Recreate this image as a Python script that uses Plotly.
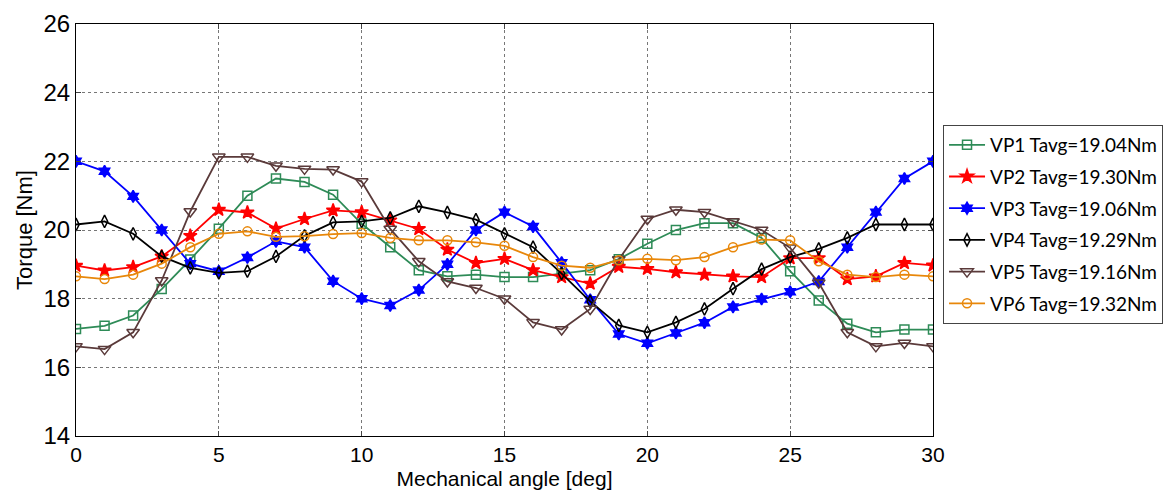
import plotly.graph_objects as go

angle = list(range(0, 31))

vp1 = [17.12, 17.21, 17.51, 18.28, 19.14, 20.04, 21.0, 21.5, 21.4, 21.03, 20.18,
       19.5, 18.83, 18.65, 18.7, 18.63, 18.63, 18.73, 18.83, 19.15, 19.6,
       20.0, 20.2, 20.2, 19.77, 18.8, 17.95, 17.27, 17.02, 17.1, 17.1]
vp2 = [18.96, 18.82, 18.92, 19.23, 19.83, 20.59, 20.51, 20.04, 20.32, 20.57, 20.52,
       20.28, 20.03, 19.43, 19.04, 19.16, 18.83, 18.63, 18.44, 18.93, 18.87,
       18.77, 18.7, 18.65, 18.63, 19.18, 19.18, 18.57, 18.65, 19.04, 18.97]
vp3 = [22.0, 21.71, 20.98, 20.0, 19.02, 18.8, 19.2, 19.67, 19.5, 18.51, 18.0,
       17.8, 18.25, 19.0, 20.0, 20.52, 20.1, 19.05, 17.97, 16.97, 16.7,
       17.0, 17.3, 17.76, 17.99, 18.2, 18.5, 19.5, 20.52, 21.5, 22.0]
vp4 = [20.16, 20.25, 19.89, 19.23, 18.9, 18.75, 18.8, 19.23, 19.83, 20.22, 20.25,
       20.35, 20.69, 20.51, 20.3, 19.89, 19.5, 18.73, 17.92, 17.22, 17.02,
       17.31, 17.7, 18.29, 18.86, 19.21, 19.45, 19.77, 20.16, 20.16, 20.16]
vp5 = [16.61, 16.53, 17.02, 18.53, 20.54, 22.13, 22.13, 21.87, 21.78, 21.76, 21.41,
       20.03, 19.09, 18.5, 18.31, 18.0, 17.31, 17.1, 17.7, 19.14, 20.32,
       20.59, 20.52, 20.25, 20.0, 19.48, 18.46, 17.02, 16.61, 16.71, 16.61]
vp6 = [18.65, 18.57, 18.7, 19.02, 19.5, 19.89, 19.96, 19.8, 19.82, 19.88, 19.91,
       19.77, 19.7, 19.7, 19.64, 19.54, 19.21, 18.96, 18.9, 19.12, 19.16,
       19.12, 19.21, 19.5, 19.72, 19.7, 19.09, 18.7, 18.63, 18.7, 18.65]

names = ["VP1 Tavg=19.04Nm", "VP2 Tavg=19.30Nm", "VP3 Tavg=19.06Nm",
         "VP4 Tavg=19.29Nm", "VP5 Tavg=19.16Nm", "VP6 Tavg=19.32Nm"]
series = [vp1, vp2, vp3, vp4, vp5, vp6]
colors = ["#2E8B57", "#FF0000", "#0000FF", "#000000", "#5A3A3A", "#E8870A"]
symbols = ["square-open", "star", "hexagram", "diamond-tall-open", "triangle-down-open", "circle-open"]
sizes = [9, 10, 9, 9, 11, 9]

fig = go.Figure()
for i, (nm, ys, c, s, sz) in enumerate(zip(names, series, colors, symbols, sizes)):
    fig.add_trace(go.Scatter(
        x=angle, y=ys, name=nm, mode="lines+markers", legendgroup=f"g{i}",
        line=dict(color=c, width=1.8),
        marker=dict(symbol=s, size=sz, color=c, line=dict(color=c, width=1.5)),
    ))

grid = dict(showgrid=True, gridcolor="#777777", griddash="dot", gridwidth=1)
fig.update_xaxes(range=[0, 30], dtick=5, tick0=0, showline=True, linecolor="black",
                 mirror="ticks", ticks="inside", ticklen=5, zeroline=False, automargin=False,
                 title=dict(text="Mechanical angle [deg]", font=dict(size=21), standoff=6),
                 tickfont=dict(size=21), **grid)
fig.update_yaxes(range=[14, 26], dtick=2, tick0=14, showline=True, linecolor="black",
                 mirror="ticks", ticks="inside", ticklen=5, zeroline=False, automargin=False,
                 title=dict(text="Torque [Nm]", font=dict(size=22), standoff=4),
                 tickfont=dict(size=24), **grid)

fig.update_layout(
    width=1167, height=492,
    margin=dict(l=76, r=234, t=24, b=56, autoexpand=False),
    paper_bgcolor="white", plot_bgcolor="white",
    font=dict(family="Liberation Sans, Arial, sans-serif", color="black"),
    legend=dict(x=1.0117, y=0.755, xanchor="left", yanchor="top",
                bordercolor="#444444", borderwidth=1, bgcolor="white",
                font=dict(family="Lato, Noto Sans, sans-serif", size=19),
                itemwidth=36, tracegroupgap=4),
)

fig.write_html("out.html", config={"displayModeBar": False},
               post_script="document.body.style.margin='0';document.body.style.overflow='hidden';")
